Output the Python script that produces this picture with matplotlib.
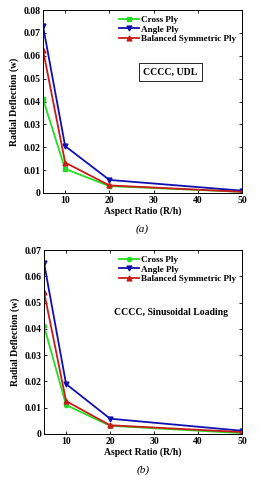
import matplotlib
matplotlib.use("Agg")
import matplotlib.pyplot as plt

plt.rcParams['font.family'] = ['Liberation Serif', 'DejaVu Serif']
plt.rcParams['font.weight'] = 'bold'

aspect = [5, 10, 20, 50]
xticks = [10, 20, 30, 40, 50]

cross_a = [0.041, 0.0105, 0.0030, 0.0005]
angle_a = [0.073, 0.0205, 0.0057, 0.0010]
bal_a = [0.0625, 0.0133, 0.0033, 0.0005]

cross_b = [0.041, 0.0110, 0.0031, 0.0003]
angle_b = [0.065, 0.0190, 0.0058, 0.0012]
bal_b = [0.054, 0.0125, 0.0033, 0.0007]

yticks_a = [0, 0.01, 0.02, 0.03, 0.04, 0.05, 0.06, 0.07, 0.08]
yticks_b = [0, 0.01, 0.02, 0.03, 0.04, 0.05, 0.06, 0.07]

fig = plt.figure(figsize=(2.64, 4.8), dpi=100)


def panel(rect, cross, angle, bal, yticks, cmark, note, boxed, tag):
    ax = fig.add_axes(rect)
    ax.plot(aspect, cross, color="#22dd22", marker=cmark, ms=3, lw=1.3, label="Cross Ply")
    ax.plot(aspect, angle, color="#1010b0", marker="v", ms=3.5, lw=1.3, label="Angle Ply")
    ax.plot(aspect, bal, color="#cc1a1a", marker="^", ms=3.5, lw=1.3, label="Balanced Symmetric Ply")
    ax.set_xlim(5, 50)
    ax.set_ylim(yticks[0], yticks[-1])
    ax.set_xticks(xticks)
    ax.set_yticks(yticks)
    ax.set_yticklabels(["0"] + ["%.2f" % v for v in yticks[1:]])
    ax.tick_params(direction="in", top=True, right=True, labelsize=7, length=2.5, width=0.6, pad=2)
    for s in ax.spines.values():
        s.set_linewidth(0.7)
    ax.set_xlabel("Aspect Ratio (R/h)", fontsize=7, fontweight="bold", labelpad=1)
    ax.set_ylabel("Radial Deflection (w)", fontsize=7, fontweight="bold", labelpad=3)
    ax.legend(loc="upper right", frameon=False, fontsize=6.6, handlelength=2.2,
              handletextpad=0.3, labelspacing=0.12, borderaxespad=0.2)
    bbox = dict(boxstyle="square,pad=0.45", fc="white", ec="black", lw=0.6) if boxed else None
    ax.text(0.64, 0.66, note, transform=ax.transAxes, ha="center", va="center",
            fontsize=7, fontweight="bold", bbox=bbox)
    ax.text(0.5, -0.2, tag, transform=ax.transAxes, ha="center", va="center",
            fontsize=8, fontweight="normal", style="italic")
    return ax


panel([0.163, 0.598, 0.754, 0.381], cross_a, angle_a, bal_a, yticks_a, "s",
      "CCCC, UDL", True, "(a)")
panel([0.167, 0.096, 0.75, 0.383], cross_b, angle_b, bal_b, yticks_b, "o",
      "CCCC, Sinusoidal Loading", False, "(b)")

fig.savefig("out.png", dpi=100)
